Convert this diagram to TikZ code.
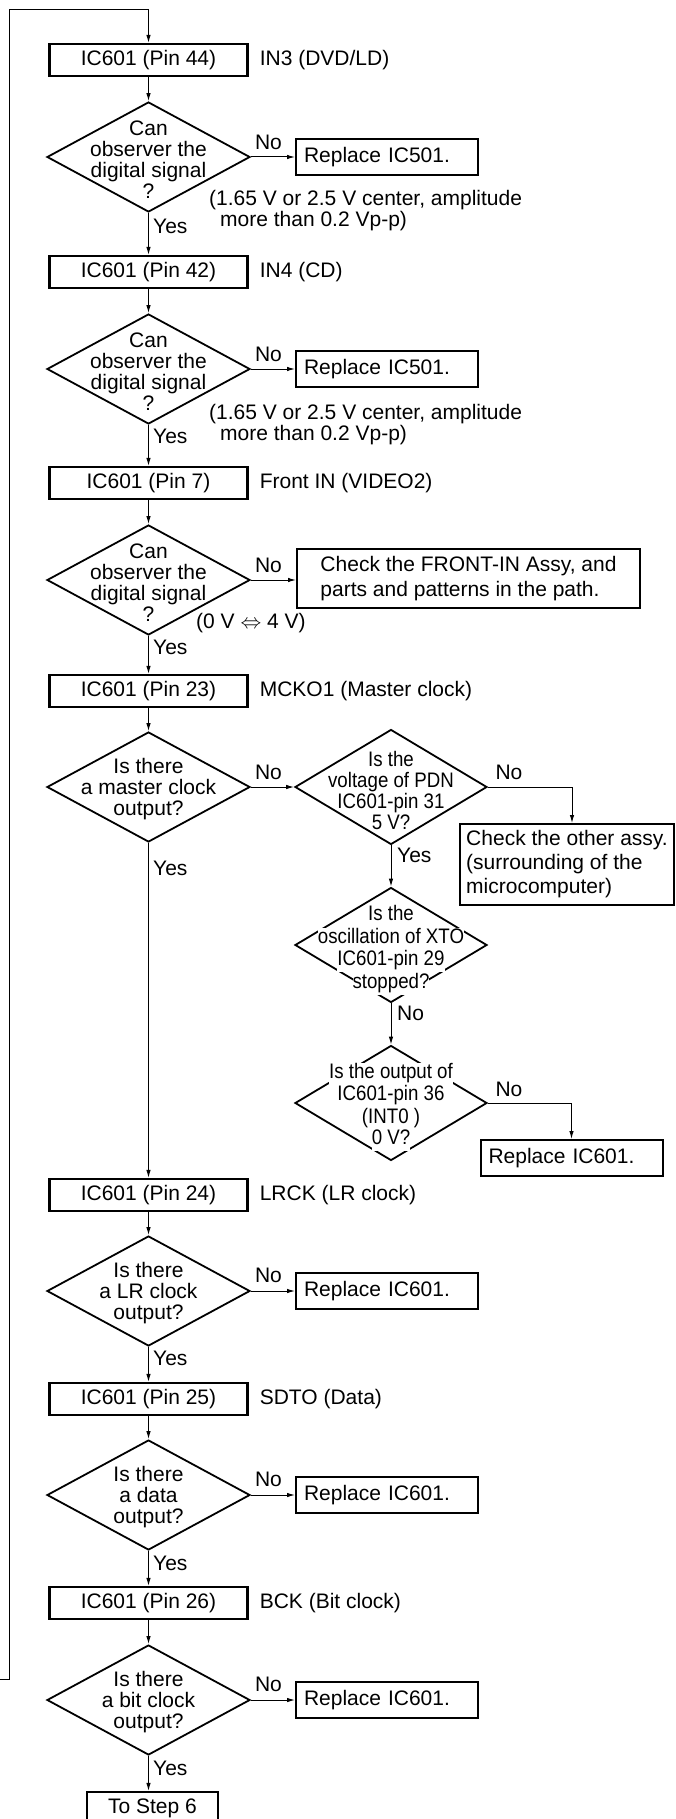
\documentclass[tikz,border=0pt]{standalone}
\usepackage{fontspec}
\setmainfont{Liberation Sans}
\newfontfamily\narrowfont[FakeStretch=0.89]{Liberation Sans}
\usetikzlibrary{shapes.geometric,arrows.meta}
\newcommand{\wl}[1]{{\setlength{\fboxsep}{0pt}\colorbox{white}{\strut #1}}}
\tikzset{
  every node/.style={font=\fontsize{21}{21}\selectfont},
  box/.style={draw, line width=2.2pt, minimum width=198pt, minimum height=32pt, inner sep=0pt},
  dia/.style={draw, diamond, line width=1.8pt, minimum width=203pt, minimum height=110pt, inner sep=0pt},
  diar/.style={draw, diamond, line width=1.8pt, minimum width=192pt, minimum height=115pt, inner sep=0pt},
  dtext/.style={align=center, inner sep=0pt},
  ntext/.style={align=center, inner sep=0pt, font=\narrowfont\fontsize{21}{21}\selectfont},
  rep/.style={draw, line width=2pt, minimum height=36pt, text width=166pt, inner xsep=8pt, inner ysep=0pt, align=left},
  side/.style={anchor=west, inner sep=0pt},
  lab/.style={inner sep=0pt},
  arr/.style={line width=1pt, -{Latex[length=8pt,width=4.5pt]}},
}
\begin{document}
\begin{tikzpicture}[x=1pt,y=-1pt]
\useasboundingbox (0,0) rectangle (675,1819);

% ---- step 1
\node[box] (b1) at (148.5,60) {IC601 (Pin 44)};
\node[side] (s1) at (259.6,60) {IN3 (DVD/LD)};
\node[dia] (d1) at (148.5,157) {};
\node[dtext] (t1) at (148.5,160) {Can\\observer the\\digital signal\\?};
\node[rep] (r1) at (387,157) {Replace IC501.};
\node[lab, anchor=west, align=left] (n1) at (209,211) {(1.65 V or 2.5 V center, amplitude\\\hspace*{11pt}more than 0.2 Vp-p)};
\node[lab] (no1) at (268.5,142) {No};
\node[lab, anchor=west] (y1) at (153,226) {Yes};

% ---- step 2
\node[box] (b2) at (148.5,272) {IC601 (Pin 42)};
\node[side] (s2) at (259.6,272) {IN4 (CD)};
\node[dia] (d2) at (148.5,369) {};
\node[dtext] (t2) at (148.5,372) {Can\\observer the\\digital signal\\?};
\node[rep] (r2) at (387,369) {Replace IC501.};
\node[lab, anchor=west, align=left] (n2) at (209,424.5) {(1.65 V or 2.5 V center, amplitude\\\hspace*{11pt}more than 0.2 Vp-p)};
\node[lab] (no2) at (268.5,354) {No};
\node[lab, anchor=west] (y2) at (153,436) {Yes};

% ---- step 3
\node[box] (b3) at (148.5,483) {IC601 (Pin 7)};
\node[side] (s3) at (259.6,483) {Front IN (VIDEO2)};
\node[dia] (d3) at (148.5,580) {};
\node[dtext] (t3) at (148.5,583) {Can\\observer the\\digital signal\\?};
\node[draw, line width=2pt, minimum width=343pt, minimum height=59pt, inner xsep=12pt, align=left, font=\fontsize{21}{25}\selectfont, anchor=north west] (cf) at (296,548) {Check the FRONT-IN Assy, and\\parts and patterns in the path.};
\node[lab, anchor=west] (n3) at (196,623) {(0 V $\Leftrightarrow$ 4 V)};
\node[lab] (no3) at (268.5,565) {No};
\node[lab, anchor=west] (y3) at (153,647) {Yes};

% ---- step 4 (master clock)
\node[box] (b4) at (148.5,691) {IC601 (Pin 23)};
\node[side] (s4) at (259.6,691) {MCKO1 (Master clock)};
\node[dia] (d4) at (148.5,787) {};
\node[dtext] (t4) at (148.5,789) {Is there\\a master clock\\output?};
\node[lab] (no4) at (268.5,772) {No};
\node[lab, anchor=west] (y4) at (153,868) {Yes};

\node[diar] (d5) at (391,787) {};
\node[ntext] (t5) at (391,790) {Is the\\voltage of PDN\\IC601-pin 31\\5 V?};
\node[lab] (no5) at (509,772) {No};
\coordinate (c5) at (572,787);
\node[draw, line width=2pt, minimum width=214pt, minimum height=81pt, inner xsep=6pt, align=left, font=\fontsize{21}{24}\selectfont, anchor=north west] (cb) at (459,823) {Check the other assy.\\(surrounding of the\\microcomputer)};
\node[lab, anchor=west] (y5) at (397,855) {Yes};

\node[diar] (d6) at (391,945) {};
\node[ntext] (t6) at (391,950) {\wl{Is the}\\\wl{oscillation of XTO}\\\wl{IC601-pin 29}\\\wl{stopped?}};
\node[lab, anchor=west] (no6) at (397,1013) {No};

\node[diar] (d7) at (391,1103) {};
\node[ntext] (t7) at (391,1107) {\wl{Is the output of}\\\wl{IC601-pin 36}\\\wl{(INT0 )}\\\wl{0 V?}};
\node[lab] (no7) at (509,1089) {No};
\node[rep] (r7) at (571.5,1158) {Replace IC601.};

% ---- step 5
\node[box] (b5) at (148.5,1195) {IC601 (Pin 24)};
\node[side] (s5) at (259.6,1195) {LRCK (LR clock)};
\node[dia] (d8) at (148.5,1291) {};
\node[dtext] (t8) at (148.5,1293) {Is there\\a LR clock\\output?};
\node[rep] (r8) at (387,1291) {Replace IC601.};
\node[lab] (no8) at (268.5,1275) {No};
\node[lab, anchor=west] (y8) at (153,1358) {Yes};

% ---- step 6
\node[box] (b6) at (148.5,1399) {IC601 (Pin 25)};
\node[side] (s6) at (259.6,1399) {SDTO (Data)};
\node[dia] (d9) at (148.5,1495) {};
\node[dtext] (t9) at (148.5,1497) {Is there\\a data\\output?};
\node[rep] (r9) at (387,1495) {Replace IC601.};
\node[lab] (no9) at (268.5,1479) {No};
\node[lab, anchor=west] (y9) at (153,1563) {Yes};

% ---- step 7
\node[box] (b7) at (148.5,1603) {IC601 (Pin 26)};
\node[side] (s7) at (259.6,1603) {BCK (Bit clock)};
\node[dia] (d10) at (148.5,1700) {};
\node[dtext] (t10) at (148.5,1702) {Is there\\a bit clock\\output?};
\node[rep] (r10) at (387,1700) {Replace IC601.};
\node[lab] (no10) at (268.5,1684) {No};
\node[lab, anchor=west] (y10) at (153,1768) {Yes};

\node[box, minimum width=131pt] (end) at (152.5,1808) {To Step 6};

% ---- loop back line
\coordinate (lp) at (0,1679);
\coordinate (lt) at (9.3,9.3);
\draw[arr] (lp) -| (lt) -| (b1.north);

% ---- connectors
\draw[arr] (b1.south) -- (d1.north);
\draw[arr] (d1.east) -- (r1.west);
\draw[arr] (d1.south) -- (b2.north);
\draw[arr] (b2.south) -- (d2.north);
\draw[arr] (d2.east) -- (r2.west);
\draw[arr] (d2.south) -- (b3.north);
\draw[arr] (b3.south) -- (d3.north);
\draw[arr] (d3.east) -- (d3.east -| cf.west);
\draw[arr] (d3.south) -- (b4.north);
\draw[arr] (b4.south) -- (d4.north);
\draw[arr] (d4.east) -- (d5.west);
\draw[arr] (d5.east) -- (c5) -- (c5 |- cb.north);
\draw[arr] (d5.south) -- (d6.north);
\draw[arr] (d6.south) -- (d7.north);
\draw[arr] (d7.east) -| (r7.north);
\draw[arr] (d4.south) -- (b5.north);
\draw[arr] (b5.south) -- (d8.north);
\draw[arr] (d8.east) -- (r8.west);
\draw[arr] (d8.south) -- (b6.north);
\draw[arr] (b6.south) -- (d9.north);
\draw[arr] (d9.east) -- (r9.west);
\draw[arr] (d9.south) -- (b7.north);
\draw[arr] (b7.south) -- (d10.north);
\draw[arr] (d10.east) -- (r10.west);
\draw[arr] (d10.south) -- (d10.south |- end.north);
\end{tikzpicture}
\end{document}
